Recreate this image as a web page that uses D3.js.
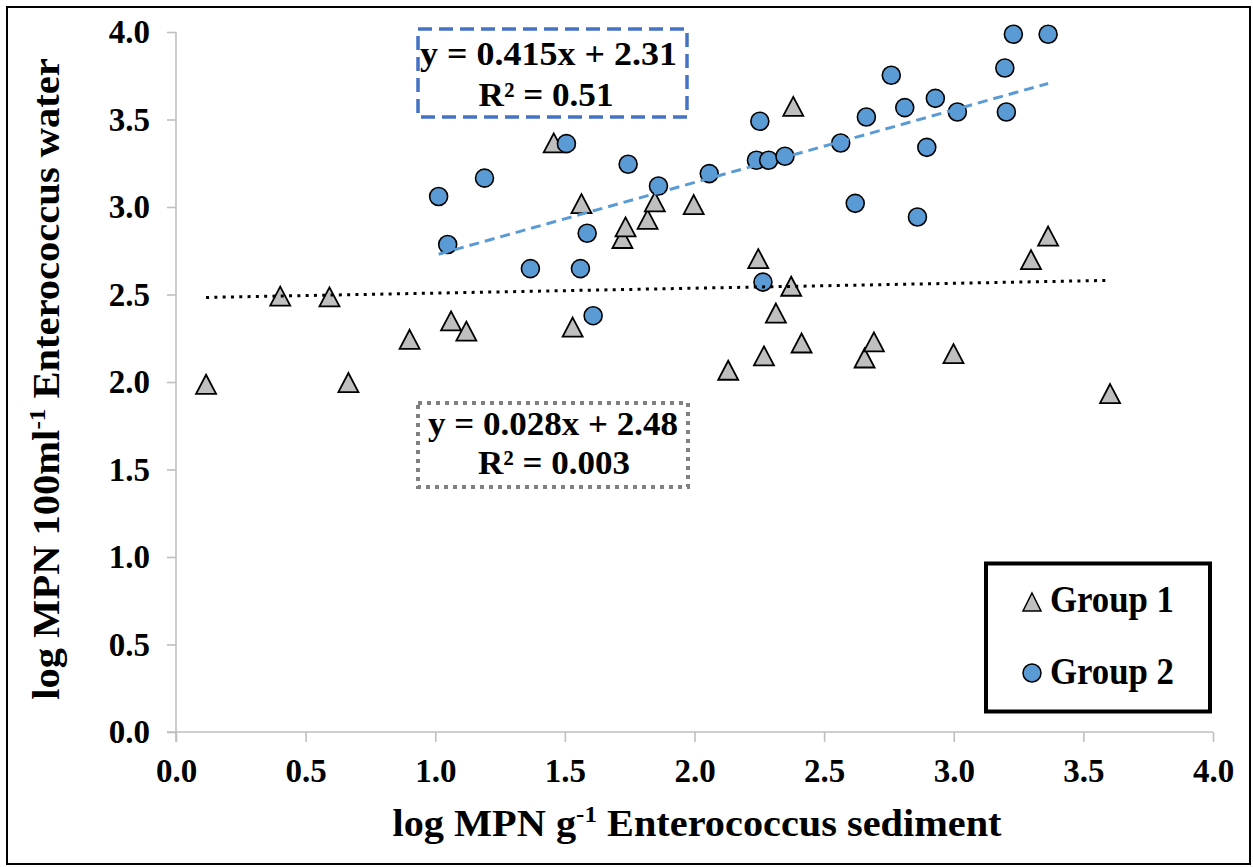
<!DOCTYPE html>
<html>
<head>
<meta charset="utf-8">
<script src="https://cdn.jsdelivr.net/npm/d3@7"></script>
<style>
  html, body { margin: 0; padding: 0; background: #fff; }
  svg { display: block; }
  text { font-family: "Liberation Serif", "Times New Roman", serif; font-weight: bold; fill: #000; }
</style>
</head>
<body>
<svg id="chart" width="1253" height="867"></svg>
<script>
// ---- data ----
const group1X = [0.116, 0.402, 0.592, 0.665, 0.901, 1.061, 1.120, 1.457, 1.530, 1.564, 1.722, 1.734, 1.819, 1.847, 1.997, 2.130, 2.246, 2.268, 2.314, 2.373, 2.381, 2.413, 2.656, 2.692, 2.999, 3.298, 3.364, 3.603];
const group1Y = [1.987, 2.491, 2.486, 1.997, 2.244, 2.349, 2.291, 3.366, 2.314, 3.019, 2.820, 2.886, 2.929, 3.029, 3.014, 2.067, 2.705, 2.149, 2.394, 2.547, 3.575, 2.223, 2.137, 2.229, 2.162, 2.699, 2.834, 1.934];
const group2X = [1.013, 1.048, 1.190, 1.367, 1.506, 1.560, 1.586, 1.609, 1.744, 1.861, 2.057, 2.252, 2.239, 2.286, 2.349, 2.264, 2.564, 2.620, 2.663, 2.759, 2.811, 2.860, 2.896, 2.929, 3.014, 3.197, 3.203, 3.230, 3.364];
const group2Y = [3.060, 2.786, 3.165, 2.648, 3.362, 2.648, 2.850, 2.379, 3.244, 3.120, 3.191, 3.490, 3.267, 3.267, 3.290, 2.571, 3.366, 3.021, 3.514, 3.753, 3.568, 2.943, 3.341, 3.621, 3.543, 3.794, 3.543, 3.987, 3.987];
const trendSlopes = [0.028, 0.415];       // Group 1, Group 2
const trendIntercepts = [2.48, 2.31];
const trendLabels = ["y = 0.028x + 2.48", "y = 0.415x + 2.31"];
const r2Labels = ["R² = 0.003", "R² = 0.51"];
const seriesNames = ["Group 1", "Group 2"];
const xTicks = [0, 0.5, 1, 1.5, 2, 2.5, 3, 3.5, 4];
const yTicks = [0, 0.5, 1, 1.5, 2, 2.5, 3, 3.5, 4];

// ---- layout ----
const svg = d3.select("#chart");
const plot = { left: 176, right: 1213, top: 32, bottom: 732 };
const x = d3.scaleLinear().domain([0, 4]).range([plot.left, plot.right]);
const y = d3.scaleLinear().domain([0, 4]).range([plot.bottom, plot.top]);

const axisColor = "#bfbfbf";
const triFill = "#bfbfbf";
const circFill = "#5b9bd5";

// squeeze/stretch a text horizontally (in its own frame) to a target width
function fitWidth(sel, target, cx, cy) {
  const w = sel.node().getBBox().width;
  const s = target / w;
  sel.attr("transform", `translate(${cx},${cy}) scale(${s},1)`).attr("x", 0).attr("y", 0);
}

// outer border
svg.append("rect").attr("x", 7).attr("y", 7).attr("width", 1243).attr("height", 857)
  .attr("fill", "none").attr("stroke", "#000").attr("stroke-width", 2);

// axes
const xAxis = svg.append("g").attr("transform", `translate(0,${plot.bottom})`)
  .call(d3.axisBottom(x).tickValues(xTicks).tickFormat(d3.format(".1f")).tickSize(10).tickSizeOuter(0).tickPadding(17));
const yAxis = svg.append("g").attr("transform", `translate(${plot.left},0)`)
  .call(d3.axisLeft(y).tickValues(yTicks).tickFormat(d3.format(".1f")).tickSize(9).tickSizeOuter(0).tickPadding(17));
[xAxis, yAxis].forEach(g => {
  g.select(".domain").attr("stroke", axisColor).attr("stroke-width", 1.6);
  g.selectAll(".tick line").attr("stroke", axisColor).attr("stroke-width", 1.6);
  g.selectAll(".tick text").attr("font-family", "Liberation Serif").attr("font-weight", "bold")
    .attr("font-size", 33).attr("fill", "#000");
});
xAxis.select(".domain").attr("d", `M${plot.left - 9},0H${plot.right}`);
yAxis.select(".domain").attr("d", `M0,${plot.top}V${plot.bottom + 10}`);
xAxis.selectAll(".tick text").attr("dy", "0.71em");

// axis titles
const xtG = svg.append("g").attr("transform", "translate(697,836)");
const xt = xtG.append("text").attr("text-anchor", "middle").attr("font-size", 37);
xt.append("tspan").text("log MPN g");
xt.append("tspan").attr("font-size", 23).attr("dy", -14).text("-1");
xt.append("tspan").attr("dy", 14).text(" Enterococcus sediment");
fitWidth(xt, 610, 0, 0);

const ytG = svg.append("g").attr("transform", "translate(59,379) rotate(-90)");
const yt = ytG.append("text").attr("text-anchor", "middle").attr("font-size", 37);
yt.append("tspan").text("log MPN 100ml");
yt.append("tspan").attr("font-size", 23).attr("dy", -14).text("-1");
yt.append("tspan").attr("dy", 14).text(" Enterococcus water");
fitWidth(yt, 642, 0, 0);

// markers
const triPath = (w, h) => `M0,${-h/2}L${w/2},${h/2}L${-w/2},${h/2}Z`;

const g1 = group1X.map((v, i) => ({ x: v, y: group1Y[i] }));
const g2 = group2X.map((v, i) => ({ x: v, y: group2Y[i] }));

svg.append("g").selectAll("path").data(g1).join("path")
  .attr("d", triPath(20, 19))
  .attr("transform", d => `translate(${x(d.x)},${y(d.y)})`)
  .attr("fill", triFill).attr("stroke", "#000").attr("stroke-width", 1.8);

svg.append("g").selectAll("circle").data(g2).join("circle")
  .attr("cx", d => x(d.x)).attr("cy", d => y(d.y)).attr("r", 9)
  .attr("fill", circFill).attr("stroke", "#000").attr("stroke-width", 1.6);

// trend lines
function trend(data, k) {
  const [x0, x1] = d3.extent(data, d => d.x);
  return [[x0, trendIntercepts[k] + trendSlopes[k] * x0], [x1, trendIntercepts[k] + trendSlopes[k] * x1]];
}
const line = d3.line().x(d => x(d[0])).y(d => y(d[1]));
svg.append("path").attr("d", line(trend(g1, 0)))
  .attr("fill", "none").attr("stroke", "#000").attr("stroke-width", 3)
  .attr("stroke-dasharray", "3,5.3");
svg.append("path").attr("d", line(trend(g2, 1)))
  .attr("fill", "none").attr("stroke", "#5b9bd5").attr("stroke-width", 3)
  .attr("stroke-dasharray", "10,6");

// equation boxes
function eqBox(bx, by, bw, bh, stroke, dash, sw, lines) {
  svg.append("rect").attr("x", bx).attr("y", by).attr("width", bw).attr("height", bh)
    .attr("fill", "#fff").attr("stroke", stroke).attr("stroke-width", sw).attr("stroke-dasharray", dash);
  lines.forEach(l => {
    const t = svg.append("text").attr("text-anchor", "middle").attr("font-size", 33).text(l.t);
    fitWidth(t, l.len, l.cx, l.by);
  });
}
eqBox(418, 29, 269, 88, "#4472c4", "14,7", 3.5, [
  { t: trendLabels[1], cx: 548.5, by: 65, len: 257 },
  { t: r2Labels[1], cx: 546, by: 106, len: 135 }
]);
eqBox(418, 403, 270, 84, "#808080", "4,5", 4, [
  { t: trendLabels[0], cx: 553, by: 435, len: 250 },
  { t: r2Labels[0], cx: 554, by: 474, len: 152 }
]);

// legend
svg.append("rect").attr("x", 986).attr("y", 563.5).attr("width", 224).attr("height", 148)
  .attr("fill", "#fff").attr("stroke", "#000").attr("stroke-width", 4);
svg.append("path").attr("d", triPath(18, 18)).attr("transform", "translate(1032,602)")
  .attr("fill", triFill).attr("stroke", "#000").attr("stroke-width", 1.5);
const l1 = svg.append("text").attr("text-anchor", "middle").attr("font-size", 37).text(seriesNames[0]);
fitWidth(l1, 124, 1112, 612);
svg.append("circle").attr("cx", 1032).attr("cy", 673).attr("r", 9)
  .attr("fill", circFill).attr("stroke", "#000").attr("stroke-width", 1.5);
const l2 = svg.append("text").attr("text-anchor", "middle").attr("font-size", 37).text(seriesNames[1]);
fitWidth(l2, 124, 1112, 684);
</script>
</body>
</html>
